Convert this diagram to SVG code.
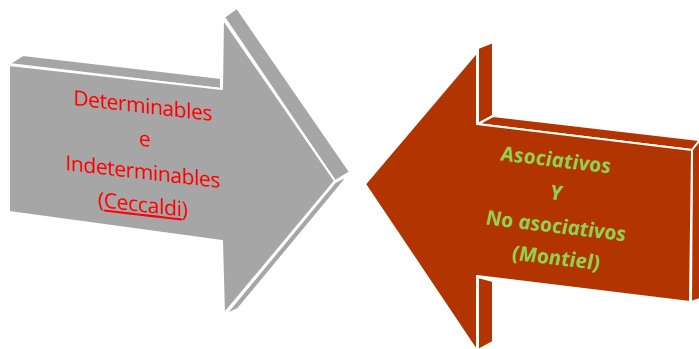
<svg xmlns="http://www.w3.org/2000/svg" width="699" height="349" viewBox="0 0 699 349">
<style>
.g{fill:#a6a6a6;stroke:#fff;stroke-width:2;stroke-linejoin:round}
.r{fill:#b23400;stroke:#fff;stroke-width:2;stroke-linejoin:round}
.tg{font-family:"Open Sans","Noto Sans",sans-serif;font-size:21px;fill:#ff0000;text-anchor:middle}
.tr{font-family:"Open Sans","Noto Sans",sans-serif;font-size:20.5px;font-weight:bold;font-style:italic;fill:#92d050;text-anchor:middle}
</style>
<rect width="699" height="349" fill="#fff"/>
<g id="node-left-arrow">
<polygon class="g" points="9,64 23,55 221,78 221,89"/>
<polygon class="g" points="224,17 237,8 350,172 335,181"/>
<polygon class="g" points="335,182 349,175 238,309 225,315"/>
<polygon class="g" points="9,65 222,89 223,19 335,181 224,314 222,241 9,212"/>
<g transform="matrix(1 0.115 0 1 0 -16.45)">
<text class="tg" x="143" y="113" textLength="139" lengthAdjust="spacing">Determinables</text>
<text class="tg" x="145" y="146">e</text>
<text class="tg" x="143" y="179" textLength="155" lengthAdjust="spacing">Indeterminables</text>
<text class="tg" x="143" y="212" textLength="90" lengthAdjust="spacing">(<tspan text-decoration="underline">Ceccaldi</tspan>)</text>
</g>
</g>
<g id="node-right-arrow">
<polygon class="r" points="478,48 493,42 493,116 478,124"/>
<polygon class="r" points="478,124 493,116 700,140 692,150"/>
<polygon class="r" points="692,150 700,140 700,299 691,302"/>
<polygon class="r" points="478,277 493,281 493,342 478,350"/>
<polygon class="r" points="365,184 477,52 477,124 692,150 690,302 477,276 477,351"/>
<g transform="matrix(1 0.119 0 1 0 -66.2)">
<text class="tr" x="556" y="167" textLength="110" lengthAdjust="spacing">Asociativos</text>
<text class="tr" x="556" y="200">Y</text>
<text class="tr" x="556" y="233" textLength="140" lengthAdjust="spacing">No asociativos</text>
<text class="tr" x="556" y="265" textLength="88" lengthAdjust="spacing">(Montiel)</text>
</g>
</g>
</svg>
